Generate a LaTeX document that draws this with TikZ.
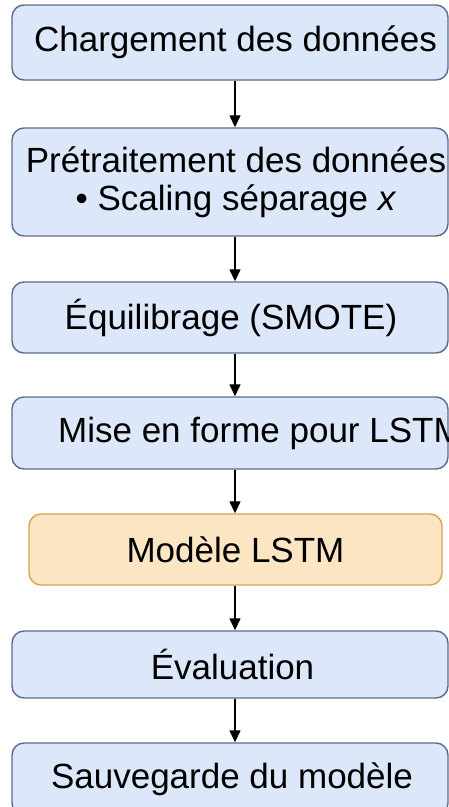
\documentclass[tikz,border=0pt]{standalone}
\usepackage{fontspec}
\setmainfont{Liberation Sans}
\usetikzlibrary{arrows.meta}

\definecolor{stepfill}{HTML}{DCE8F9}
\definecolor{stepline}{HTML}{5A6D8C}
\definecolor{modelfill}{HTML}{FCE5C2}
\definecolor{modelline}{HTML}{D8A451}

\newcommand{\nudge}[1]{\hspace*{#1pt}}

\tikzset{
  stepbox/.style={draw=stepline, fill=stepfill, line width=1.4pt,
    rounded corners=12pt, minimum width=436pt, inner sep=0pt,
    font=\fontsize{35}{39}\selectfont, align=center},
  modelbox/.style={stepbox, draw=modelline, fill=modelfill, minimum width=413pt},
  steptext/.style={inner sep=0pt, font=\fontsize{35}{39}\selectfont},
  flow/.style={draw=black, line width=1.3pt, -{Triangle[length=12pt,width=11pt]}}
}

\begin{document}
\begin{tikzpicture}[x=1pt, y=-1pt]
  \clip (0,0) rectangle (449,807);
  \fill[white] (0,0) rectangle (449,807);

  % pipeline steps
  \node[stepbox, minimum height=75pt]  (b1) at (230,42.5)  {\nudge{11}Chargement des données};
  \node[stepbox, minimum height=108pt] (b2) at (230,182)
    {\nudge{12}Prétraitement des données\\[-1pt]\nudge{12}• Scaling séparage \textit{x}};
  \node[stepbox, minimum height=71pt]  (b3) at (230,317.5) {\nudge{2}Équilibrage (SMOTE)};
  \node[stepbox, minimum height=72pt]  (b4) at (230,433)   {};
  \node[steptext, anchor=west] (t4) at (58,433) {Mise en forme pour LSTM};
  \node[modelbox, minimum height=71pt] (b5) at (235.5,549.5) {Modèle LSTM};
  \node[stepbox, minimum height=67pt]  (b6) at (230,664.5) {\nudge{5}Évaluation};
  \node[stepbox, minimum height=72pt]  (b7) at (230,779)   {\nudge{4}Sauvegarde du modèle};

  % vertical axis of the arrows
  \coordinate (ax) at (235,0);

  \draw[flow] (b1.south -| ax) -- (b2.north -| ax);
  \draw[flow] (b2.south -| ax) -- (b3.north -| ax);
  \draw[flow] (b3.south -| ax) -- (b4.north -| ax);
  \draw[flow] (b4.south -| ax) -- (b5.north -| ax);
  \draw[flow] (b5.south -| ax) -- (b6.north -| ax);
  \draw[flow] (b6.south -| ax) -- (b7.north -| ax);
\end{tikzpicture}
\end{document}
